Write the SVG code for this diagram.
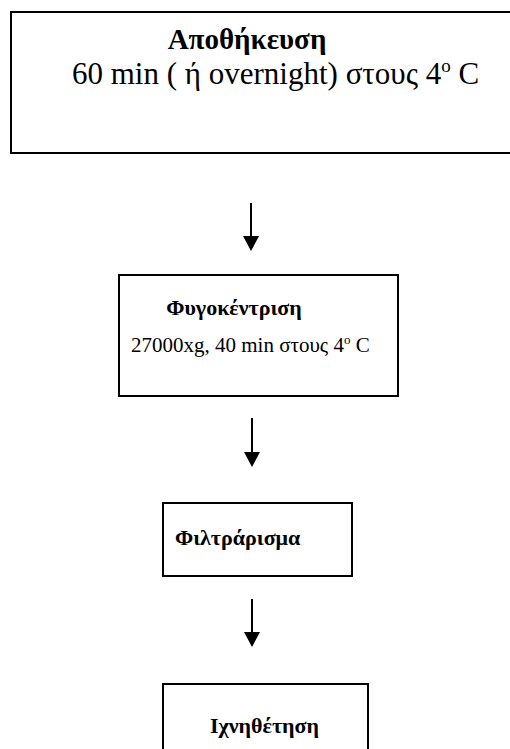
<svg xmlns="http://www.w3.org/2000/svg" width="510" height="749" viewBox="0 0 510 749">
<style>
.box{fill:#fff;stroke:#000;stroke-width:2}
.t{font-family:"Liberation Serif","Times New Roman",serif;fill:#000;font-size:21px}
.b{font-weight:bold;font-size:22px}
.sup{font-size:13px}
.big{font-size:31px}
.bigb{font-weight:bold;font-size:29px}
.bigsup{font-size:19px}
.ln{stroke:#000;stroke-width:2}
.ah{fill:#000}
</style>
<rect width="510" height="749" fill="#fff"/>
<g id="node-storage">
<rect class="box" x="11" y="12" width="510" height="141"/>
<text class="t bigb" x="247" y="49" text-anchor="middle">Αποθήκευση</text>
<text class="t big" x="72" y="84">60 min ( ή overnight) στους 4<tspan class="bigsup" dy="-12">o</tspan><tspan dy="12"> C</tspan></text>
</g>
<g id="node-centrifuge">
<rect class="box" x="119" y="275" width="279" height="121"/>
<text class="t b" x="234" y="315" text-anchor="middle">Φυγοκέντριση</text>
<text class="t" x="131" y="352">27000xg, 40 min στους 4<tspan class="sup" dy="-8">o</tspan><tspan dy="8"> C</tspan></text>
</g>
<g id="node-filter">
<rect class="box" x="163" y="503" width="189" height="73"/>
<text class="t b" x="175" y="545">Φιλτράρισμα</text>
</g>
<g id="node-detect">
<rect class="box" x="163" y="684" width="205" height="80"/>
<text class="t b" x="210" y="733">Ιχνηθέτηση</text>
</g>
<g id="connectors">
<line class="ln" x1="251" y1="203" x2="251" y2="238"/>
<polygon class="ah" points="243,236 259,236 251,251"/>
<line class="ln" x1="252" y1="418" x2="252" y2="454"/>
<polygon class="ah" points="244,452 260,452 252,467"/>
<line class="ln" x1="252" y1="599" x2="252" y2="634"/>
<polygon class="ah" points="244,632 260,632 252,647"/>
</g>
</svg>
